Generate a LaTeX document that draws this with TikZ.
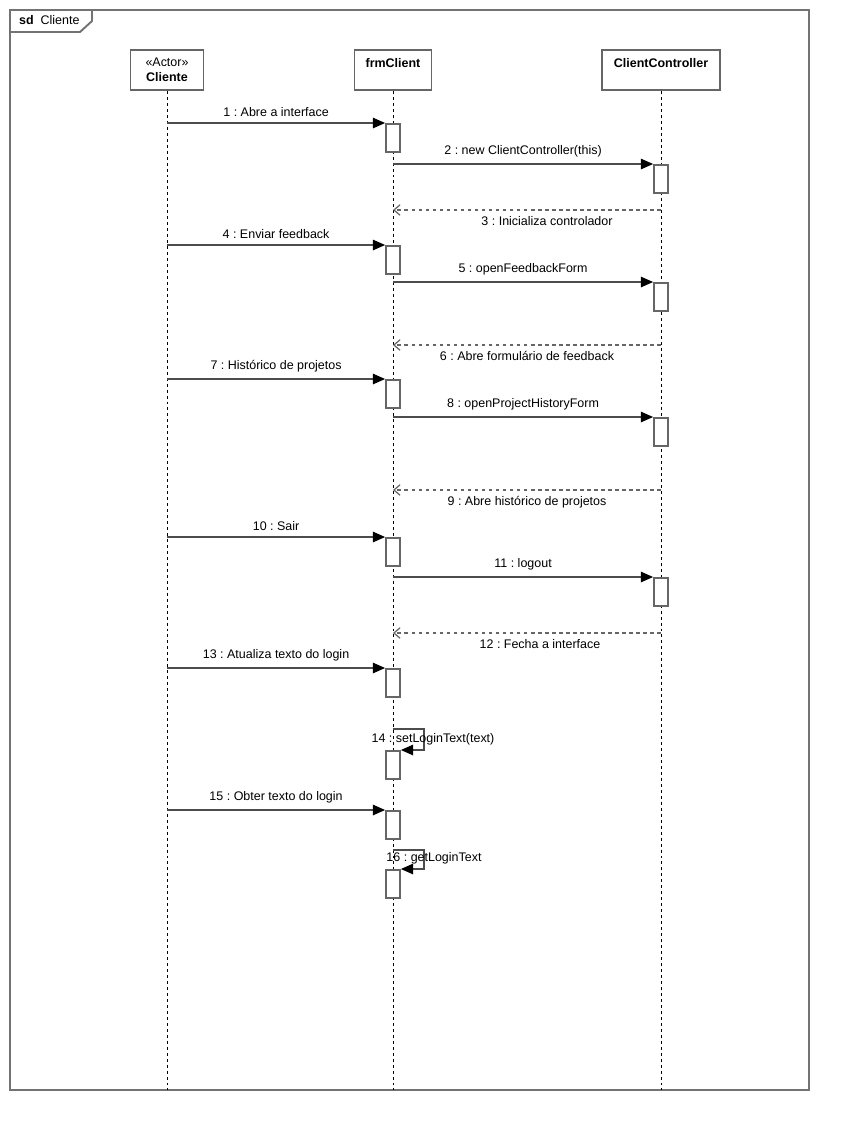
\documentclass[tikz,border=0pt]{standalone}
\usepackage{fontspec}
\setmainfont{Liberation Sans}
\usetikzlibrary{arrows.meta,positioning}
\frenchspacing

\begin{document}
\begin{tikzpicture}[x=0.02cm, y=-0.02cm,
    font=\fontsize{7.1pt}{8.6pt}\selectfont,
    frame/.style={draw=black!55, line width=1.1pt},
    head/.style={draw=black!60, line width=1pt, fill=white, align=center,
      minimum height=0.8cm, inner sep=2pt,
      font=\fontsize{7.1pt}{8.6pt}\selectfont\bfseries},
    life/.style={line width=0.5pt, dash pattern=on 1.7pt off 1.7pt},
    act/.style={draw=black!60, line width=1pt, fill=white, minimum width=0.28cm,
      minimum height=0.56cm, inner sep=0pt, anchor=north},
    msg/.style={draw=black!70, line width=0.7pt,
      -{Triangle[length=7pt, width=6pt, color=black]}},
    ret/.style={draw=black!60, line width=0.7pt, dash pattern=on 2pt off 2pt,
      -{Straight Barb[length=3.5pt, width=6pt]}}
  ]
    \useasboundingbox (0,0) rectangle (850,1130);

    % frame
    \draw[frame] (10,10) rectangle (809,1090);
    \draw[frame] (10,32) -- (80,32) -- (92,21) -- (92,10);
    \node[anchor=west] (sd) at (13,20) {\textbf{sd}\ \ Cliente};

    % lifelines
    \node[head, minimum width=1.46cm] (cli) at (167,70) {{\mdseries «Actor»}\\Cliente};
    \node[head, minimum width=1.54cm, text depth=0.3cm] (frm) at (393,70) {frmClient};
    \node[head, minimum width=2.36cm, text depth=0.3cm] (ctl) at (661,70) {ClientController};
    \coordinate (bot) at (0,1090);
    \foreach \n in {cli,frm,ctl}
      \draw[life] (\n.south) -- (\n.south |- bot);

    % activations
    \node[act] (a1) at (393,123) {};
    \node[act] (a2) at (661,164) {};
    \node[act] (a4) at (393,245) {};
    \node[act] (a5) at (661,282) {};
    \node[act] (a7) at (393,379) {};
    \node[act] (a8) at (661,417) {};
    \node[act] (a10) at (393,537) {};
    \node[act] (a11) at (661,577) {};
    \node[act] (a13) at (393,668) {};
    \node[act] (a14) at (393,750) {};
    \node[act] (a15) at (393,810) {};
    \node[act] (a16) at (393,869) {};

    \coordinate (r3) at (0,210);
    \coordinate (r6) at (0,345);
    \coordinate (r9) at (0,490);
    \coordinate (r12) at (0,633);
    \coordinate (s14) at (393,729);
    \coordinate (s16) at (393,850);

    % messages
    \draw[msg] (cli |- a1.north) -- node[above] {1 : Abre a interface} (a1.north west);
    \draw[msg] (frm |- a2.north) -- node[above] {2 : new ClientController(this)} (a2.north west);
    \draw[ret] (ctl |- r3) -- node[below, xshift=0.4cm] {3 : Inicializa controlador} (frm |- r3);
    \draw[msg] (cli |- a4.north) -- node[above] {4 : Enviar feedback} (a4.north west);
    \draw[msg] (frm |- a5.north) -- node[above] {5 : openFeedbackForm} (a5.north west);
    \draw[ret] (ctl |- r6) -- node[below] {6 : Abre formulário de feedback} (frm |- r6);
    \draw[msg] (cli |- a7.north) -- node[above] {7 : Histórico de projetos} (a7.north west);
    \draw[msg] (frm |- a8.north) -- node[above] {8 : openProjectHistoryForm} (a8.north west);
    \draw[ret] (ctl |- r9) -- node[below] {9 : Abre histórico de projetos} (frm |- r9);
    \draw[msg] (cli |- a10.north) -- node[above] {10 : Sair} (a10.north west);
    \draw[msg] (frm |- a11.north) -- node[above] {11 : logout} (a11.north west);
    \draw[ret] (ctl |- r12) -- node[below, xshift=0.26cm] {12 : Fecha a interface} (frm |- r12);
    \draw[msg] (cli |- a13.north) -- node[above] {13 : Atualiza texto do login} (a13.north west);
    \draw[msg] (s14) -- ++(31,0) |- (a14.north east);
    \node (l14) at (433,739) {14 : setLoginText(text)};
    \draw[msg] (cli |- a15.north) -- node[above] {15 : Obter texto do login} (a15.north west);
    \draw[msg] (s16) -- ++(31,0) |- (a16.north east);
    \node (l16) at (434,858) {16 : getLoginText};
  \end{tikzpicture}
\end{document}
